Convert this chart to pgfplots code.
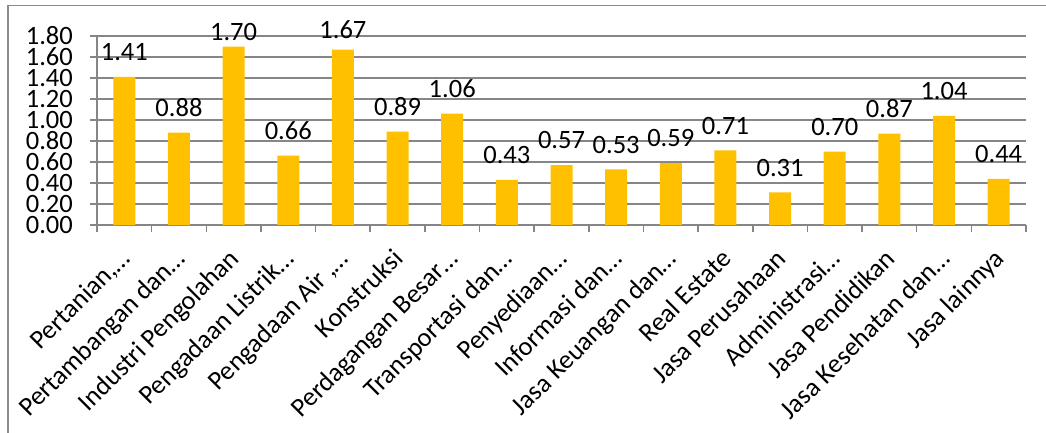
\documentclass[border=0pt]{standalone}
\usepackage{pgfplots}
\pgfplotsset{compat=1.18}
\usepackage{pgfplotstable}
\usepackage{fontspec}
\setmainfont{Carlito}

\definecolor{barc}{RGB}{255,192,0}
\definecolor{gridc}{RGB}{134,134,134}
\definecolor{framec}{RGB}{140,140,140}

% value and vertical offset of the value label
\pgfplotstableread{
x  y     sh
0  1.41  12.5
1  0.88  12.5
2  1.70  2.5
3  0.66  12.5
4  1.67  7.5
5  0.89  12.5
6  1.06  12.5
7  0.43  12.5
8  0.57  12.5
9  0.53  12.5
10 0.59  12.5
11 0.71  12.5
12 0.31  12.5
13 0.70  12.5
14 0.87  12.5
15 1.04  12.5
16 0.44  12.5
}\datatable

\newcommand{\chartfont}{\fontsize{26.5}{26.5}\selectfont}

\begin{document}
\begin{tikzpicture}[x=1pt,y=1pt]
\useasboundingbox (0,0) rectangle (1046,432);
\clip (0,0) rectangle (1046,432);
% chart frame
\draw[framec, line width=1.5pt] (8,-10) -- (8,426.5) -- (1060,426.5);
\coordinate (origin) at (97,207);
\begin{axis}[
  at={(origin)}, anchor=south west,
  scale only axis, width=929pt, height=189pt,
  xmin=-0.5, xmax=16.5, ymin=0, ymax=1.8,
  axis x line*=bottom, axis y line*=left,
  axis line style={gridc, line width=1.5pt},
  ybar, bar width=22pt,
  ytick={0,0.2,0.4,0.6,0.8,1.0,1.2,1.4,1.6,1.8},
  yticklabel style={font=\chartfont, inner sep=0pt, anchor=east, xshift=-17pt,
    /pgf/number format/fixed, /pgf/number format/fixed zerofill,
    /pgf/number format/precision=2, /pgf/number format/assume math mode=true},
  ymajorgrids, grid style={gridc, line width=1.5pt},
  tick style={gridc, line width=1.5pt},
  tick align=outside, major tick length=7pt,
  xtick={-0.5,0.5,...,16.5}, xticklabels={},
  extra x ticks={0,...,16},
  extra x tick labels={{Pertanian,\dots}, {Pertambangan dan\dots}, {Industri Pengolahan}, {Pengadaan Listrik\dots}, {Pengadaan Air ,\dots}, {Konstruksi}, {Perdagangan Besar\dots}, {Transportasi dan\dots}, {Penyediaan\dots}, {Informasi dan\dots}, {Jasa Keuangan dan\dots}, {Real Estate}, {Jasa Perusahaan}, {Administrasi\dots}, {Jasa Pendidikan}, {Jasa Kesehatan dan\dots}, {Jasa lainnya}},
  extra x tick style={major tick length=0pt, grid=none},
  xticklabel style={font=\chartfont, xshift=-6pt, yshift=-22pt, rotate=45, anchor=north east, inner sep=0pt},
  xtick pos=bottom,
  visualization depends on={\thisrow{sh} \as \labshift},
  nodes near coords,
  nodes near coords style={font=\chartfont, text=black, anchor=south, yshift=\labshift pt,
    /pgf/number format/fixed, /pgf/number format/fixed zerofill,
    /pgf/number format/precision=2, /pgf/number format/assume math mode=true},
  clip=false,
]
\addplot[fill=barc, draw=none] table[x=x, y=y] {\datatable};
\end{axis}
\end{tikzpicture}
\end{document}
